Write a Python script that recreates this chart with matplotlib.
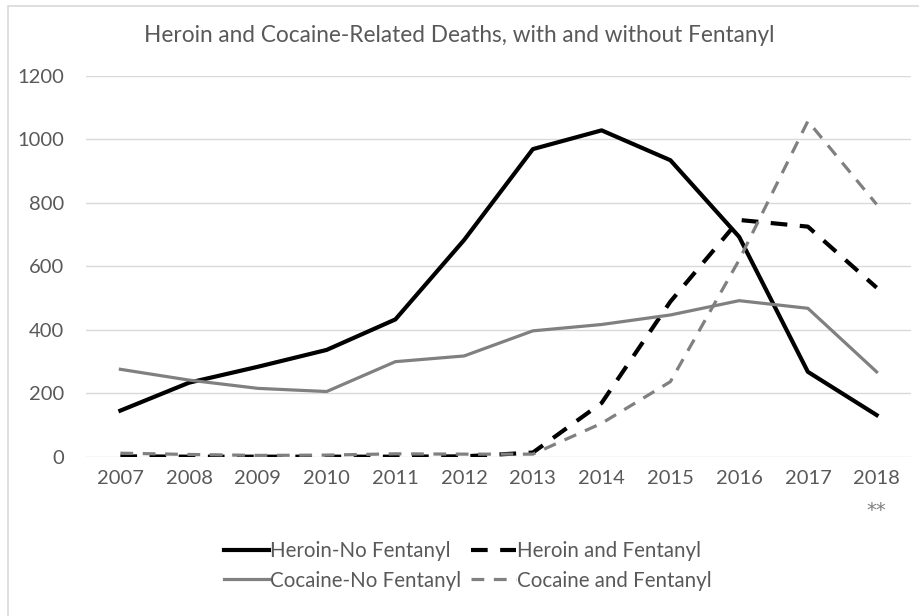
import matplotlib.pyplot as plt
from matplotlib.patches import Rectangle

plt.rcParams['font.family'] = ['Lato', 'DejaVu Sans']

years = [2007, 2008, 2009, 2010, 2011, 2012, 2013, 2014, 2015, 2016, 2017, 2018]
heroin_no_fent = [146, 234, 284, 337, 433, 683, 969, 1028, 934, 693, 268, 132]
heroin_fent = [2, 1, 1, 1, 1, 2, 14, 170, 489, 746, 725, 533]
cocaine_no_fent = [276, 242, 216, 206, 300, 318, 397, 417, 447, 492, 468, 268]
cocaine_fent = [12, 8, 5, 6, 10, 9, 9, 106, 237, 620, 1057, 795]
tick_labels = [str(y) for y in years]

text_grey = '#595959'
line_grey = '#808080'

fig = plt.figure(figsize=(9.19, 6.16), dpi=100)
ax = fig.add_axes([86 / 919, 1 - 457 / 616, (911 - 86) / 919, (457 - 75.7) / 616])

# outer chart border
fig.patches.append(Rectangle((8 / 919, -0.05), 1.1, 1 - 6 / 616 + 0.05,
                             transform=fig.transFigure, fill=False,
                             edgecolor='#d9d9d9', lw=1.2, zorder=0))

x = list(range(len(years)))
h1, = ax.plot(x, heroin_no_fent, color='black', lw=3, label='Heroin-No Fentanyl')
h2, = ax.plot(x, heroin_fent, color='black', lw=3, dashes=(4, 3), label='Heroin and Fentanyl')
c1, = ax.plot(x, cocaine_no_fent, color=line_grey, lw=2.3, label='Cocaine-No Fentanyl')
c2, = ax.plot(x, cocaine_fent, color=line_grey, lw=2.3, dashes=(4, 3), label='Cocaine and Fentanyl')

ax.set_xlim(-0.5, len(years) - 0.5)
ax.set_ylim(0, 1200)
ax.set_yticks(range(0, 1201, 200))
ax.set_xticks(x)
ax.set_xticklabels(tick_labels)
ax.grid(axis='y', color='#d9d9d9', lw=1)
ax.set_axisbelow(True)
for s in ax.spines.values():
    s.set_visible(False)
ax.tick_params(length=0, labelsize=14.5, colors=text_grey, pad=9)
ax.tick_params(axis='y', pad=16)

ax.text(len(years) - 1, -168, '**', ha='center', va='center', fontsize=14,
        color='#7f7f7f', family='DejaVu Sans')

fig.text(0.5, 1 - 35 / 616, 'Heroin and Cocaine-Related Deaths, with and without Fentanyl',
         ha='center', va='center', fontsize=16.3, color=text_grey)

# legend fills by column, so order handles to read row by row
fig.legend([h1, c1, h2, c2], [h1.get_label(), c1.get_label(), h2.get_label(), c2.get_label()],
           loc='center', bbox_to_anchor=(0.509, 1 - 566 / 616), ncol=2, frameon=False,
           fontsize=14.8, handlelength=2.2, handletextpad=0.05, columnspacing=0.5,
           labelspacing=0.45, labelcolor=text_grey)

fig.savefig('out.png', dpi=100)
